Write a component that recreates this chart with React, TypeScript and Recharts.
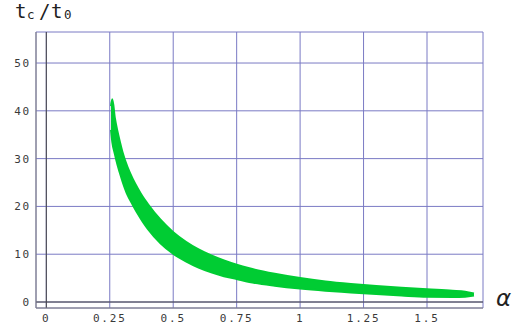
import { ComposedChart, Area, XAxis, YAxis, CartesianGrid, ReferenceLine } from 'recharts';

// alpha samples along the band, with lower / upper edge of t_c/t_0
const alphaValues = [0.255, 0.26, 0.27, 0.28, 0.29, 0.3, 0.32, 0.34, 0.36, 0.38, 0.4, 0.45, 0.5, 0.55, 0.6, 0.65, 0.7, 0.75, 0.8, 0.9, 1.0, 1.1, 1.2, 1.3, 1.4, 1.5, 1.6, 1.65, 1.685];
const lowerValues = [36, 33.5, 31.0, 28.8, 27.0, 25.3, 22.4, 20.4, 18.5, 16.8, 15.3, 12.3, 10.1, 8.5, 7.2, 6.2, 5.4, 4.8, 4.2, 3.4, 2.8, 2.35, 2.0, 1.65, 1.35, 1.1, 1.05, 1.1, 1.35];
const upperValues = [41, 42.4, 38.5, 35.8, 33.5, 31.4, 28.2, 25.8, 23.8, 22.0, 20.5, 17.2, 14.6, 12.6, 11.0, 9.75, 8.7, 7.8, 7.05, 5.9, 5.0, 4.3, 3.77, 3.33, 2.97, 2.65, 2.35, 2.15, 1.8];

const xTicks = [0, 0.25, 0.5, 0.75, 1, 1.25, 1.5];
const xLabels = ['0', '0.25', '0.5', '0.75', '1', '1.25', '1.5'];
const xMinorTicks = [0, 0.05, 0.1, 0.15, 0.2, 0.25, 0.3, 0.35, 0.4, 0.45, 0.5, 0.55, 0.6, 0.65, 0.7, 0.75, 0.8, 0.85, 0.9, 0.95, 1, 1.05, 1.1, 1.15, 1.2, 1.25, 1.3, 1.35, 1.4, 1.45, 1.5, 1.55, 1.6, 1.65, 1.7];
const yTicks = [0, 10, 20, 30, 40, 50];
const yMinorTicks = [0, 2, 4, 6, 8, 10, 12, 14, 16, 18, 20, 22, 24, 26, 28, 30, 32, 34, 36, 38, 40, 42, 44, 46, 48, 50, 52, 54, 56];

const data = alphaValues.map((a, i) => ({ alpha: a, band: [lowerValues[i], upperValues[i]] }));

const X_DOMAIN = [-0.0406, 1.7206];
const Y_DOMAIN = [-1.255, 56.49];
const FRAME = '#808080';
const tickFont = { fontSize: 11, fill: '#3a3a3a', fontFamily: '"DejaVu Sans Mono", monospace', letterSpacing: 1.8 };

export default function App() {
  const common = { type: 'number' as const, domain: X_DOMAIN, allowDataOverflow: true, height: 0 };
  const commonY = { type: 'number' as const, domain: Y_DOMAIN, allowDataOverflow: true, width: 0 };
  return (
    <div style={{ position: 'absolute', left: 0, top: 0, width: 529, height: 327, background: '#fff' }}>
      <ComposedChart width={529} height={327} data={data} margin={{ top: 32, right: 46, bottom: 0, left: 0 }}>
        <CartesianGrid stroke="#7a7ac4" strokeWidth={1} />
        {/* frame ticks, pointing inward */}
        <XAxis xAxisId="bMaj" {...common} ticks={xTicks} mirror tick={false} tickSize={4} tickLine={{ stroke: FRAME }} axisLine={false} />
        <XAxis xAxisId="bMin" {...common} ticks={xMinorTicks} mirror tick={false} tickSize={2} tickLine={{ stroke: FRAME }} axisLine={false} />
        <XAxis xAxisId="tMaj" orientation="top" {...common} ticks={xTicks} mirror tick={false} tickSize={4} tickLine={{ stroke: FRAME }} axisLine={{ stroke: FRAME }} />
        <XAxis xAxisId="tMin" orientation="top" {...common} ticks={xMinorTicks} mirror tick={false} tickSize={2} tickLine={{ stroke: FRAME }} axisLine={false} />
        <YAxis yAxisId="lMaj" {...commonY} ticks={yTicks} mirror tick={false} tickSize={4} tickLine={{ stroke: FRAME }} axisLine={false} />
        <YAxis yAxisId="lMin" {...commonY} ticks={yMinorTicks} mirror tick={false} tickSize={2} tickLine={{ stroke: FRAME }} axisLine={false} />
        <YAxis yAxisId="rMaj" orientation="right" {...commonY} ticks={yTicks} mirror tick={false} tickSize={4} tickLine={{ stroke: FRAME }} axisLine={{ stroke: FRAME }} />
        <YAxis yAxisId="rMin" orientation="right" {...commonY} ticks={yMinorTicks} mirror tick={false} tickSize={2} tickLine={{ stroke: FRAME }} axisLine={false} />
        {/* labelled axes */}
        <XAxis dataKey="alpha" type="number" domain={X_DOMAIN} allowDataOverflow height={19} ticks={xTicks} interval={0}
          tickFormatter={(v: number) => xLabels[xTicks.indexOf(v)] ?? String(v)}
          tick={tickFont} tickLine={false} tickSize={0} tickMargin={6} axisLine={{ stroke: FRAME }} />
        <YAxis type="number" domain={Y_DOMAIN} allowDataOverflow width={36} ticks={yTicks} interval={0}
          tick={tickFont} tickLine={false} tickSize={0} tickMargin={5} axisLine={{ stroke: FRAME }} />
        <ReferenceLine x={0} stroke="#444" />
        <ReferenceLine y={0} stroke="#444" />
        <Area dataKey="band" type="monotone" fill="#00cc33" fillOpacity={1} stroke="#00cc33" strokeWidth={2} strokeLinejoin="round" isAnimationActive={false} />
      </ComposedChart>
      <svg width={529} height={327} style={{ position: 'absolute', left: 0, top: 0, pointerEvents: 'none' }}>
        <g fontFamily='"DejaVu Sans Mono", monospace' fill="#222">
          <text x={15} y={18} fontSize={19}>t</text>
          <text x={27} y={19} fontSize={12.5}>c</text>
          <text x={39} y={18} fontSize={19}>/</text>
          <text x={51} y={18} fontSize={19}>t</text>
          <text x={64} y={19} fontSize={12.5}>0</text>
        </g>
        <text x={496} y={306} fontSize={23} fontStyle="italic" fontFamily='"DejaVu Sans", sans-serif' fill="#222">α</text>
      </svg>
    </div>
  );
}
